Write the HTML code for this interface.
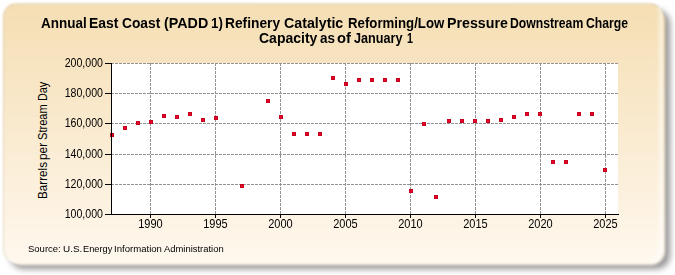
<!DOCTYPE html>
<html><head><meta charset="utf-8"><style>
html,body{margin:0;padding:0;width:675px;height:275px;overflow:hidden;background:#fff;}
body{position:relative;font-family:"Liberation Sans",sans-serif;}
#panel{position:absolute;left:2.8px;top:2.8px;width:660.2px;height:260.2px;border-radius:14px;filter:blur(0.9px);box-sizing:border-box;border:1px solid;border-color:rgba(190,178,145,0.4) rgba(255,255,255,0.45) rgba(255,255,255,0.6) rgba(190,178,145,0.4);
background:linear-gradient(to bottom,#F5DEB3 0%,#FFF8EE 100%);box-shadow:inset -5px -3px 3px -2px rgba(255,255,255,0.55);}
#shadow{position:absolute;left:10px;top:10px;width:660px;height:259px;border-radius:14px;background:rgba(0,0,0,0.42);filter:blur(3px);}
#halo{position:absolute;left:8px;top:8px;width:657px;height:257px;border-radius:14px;background:linear-gradient(to bottom,#F5DEB3 0%,#FFF8EE 100%);filter:blur(1.5px);}
#plot{position:absolute;left:111px;top:63px;width:507px;height:151px;background:#fff;}
svg{position:absolute;left:0;top:0;}
.t{position:absolute;transform-origin:0 0;font-weight:bold;font-size:13.3px;color:#000;white-space:nowrap;}
.yl{position:absolute;left:30px;width:73px;text-align:right;font-size:12.4px;line-height:14px;transform-origin:100% 50%;transform:scaleX(0.855);color:#000;}
.xl{position:absolute;top:216.5px;width:41px;text-align:center;font-size:12.4px;line-height:14px;transform:scaleX(0.887);color:#000;}
.yt{position:absolute;left:35.5px;font-size:12px;line-height:14px;white-space:nowrap;color:#000;transform-origin:0 0;}
.src{position:absolute;top:243.3px;font-size:9px;line-height:12px;color:#000;white-space:nowrap;transform-origin:0 0;}
</style></head><body>
<div id="shadow"></div><div id="halo"></div><div id="panel"></div>
<div id="plot"></div>
<svg width="675" height="275" shape-rendering="crispEdges">
<g stroke="#939393" stroke-width="1" stroke-dasharray="3,1"><line x1="111" y1="63.5" x2="618" y2="63.5"/><line x1="111" y1="93.5" x2="618" y2="93.5"/><line x1="111" y1="123.5" x2="618" y2="123.5"/><line x1="111" y1="154.5" x2="618" y2="154.5"/><line x1="111" y1="184.5" x2="618" y2="184.5"/><line x1="150.5" y1="63" x2="150.5" y2="214"/><line x1="215.5" y1="63" x2="215.5" y2="214"/><line x1="280.5" y1="63" x2="280.5" y2="214"/><line x1="345.5" y1="63" x2="345.5" y2="214"/><line x1="410.5" y1="63" x2="410.5" y2="214"/><line x1="475.5" y1="63" x2="475.5" y2="214"/><line x1="540.5" y1="63" x2="540.5" y2="214"/><line x1="605.5" y1="63" x2="605.5" y2="214"/></g>
<g fill="#C40020"><rect x="110" y="133" width="4" height="4"/><rect x="111" y="134" width="2" height="2" fill="#F2002A"/><rect x="123" y="126" width="4" height="4"/><rect x="124" y="127" width="2" height="2" fill="#F2002A"/><rect x="136" y="121" width="4" height="4"/><rect x="137" y="122" width="2" height="2" fill="#F2002A"/><rect x="149" y="120" width="4" height="4"/><rect x="150" y="121" width="2" height="2" fill="#F2002A"/><rect x="162" y="114" width="4" height="4"/><rect x="163" y="115" width="2" height="2" fill="#F2002A"/><rect x="175" y="115" width="4" height="4"/><rect x="176" y="116" width="2" height="2" fill="#F2002A"/><rect x="188" y="112" width="4" height="4"/><rect x="189" y="113" width="2" height="2" fill="#F2002A"/><rect x="201" y="118" width="4" height="4"/><rect x="202" y="119" width="2" height="2" fill="#F2002A"/><rect x="214" y="116" width="4" height="4"/><rect x="215" y="117" width="2" height="2" fill="#F2002A"/><rect x="240" y="184" width="4" height="4"/><rect x="241" y="185" width="2" height="2" fill="#F2002A"/><rect x="266" y="99" width="4" height="4"/><rect x="267" y="100" width="2" height="2" fill="#F2002A"/><rect x="279" y="115" width="4" height="4"/><rect x="280" y="116" width="2" height="2" fill="#F2002A"/><rect x="292" y="132" width="4" height="4"/><rect x="293" y="133" width="2" height="2" fill="#F2002A"/><rect x="305" y="132" width="4" height="4"/><rect x="306" y="133" width="2" height="2" fill="#F2002A"/><rect x="318" y="132" width="4" height="4"/><rect x="319" y="133" width="2" height="2" fill="#F2002A"/><rect x="331" y="76" width="4" height="4"/><rect x="332" y="77" width="2" height="2" fill="#F2002A"/><rect x="344" y="82" width="4" height="4"/><rect x="345" y="83" width="2" height="2" fill="#F2002A"/><rect x="357" y="78" width="4" height="4"/><rect x="358" y="79" width="2" height="2" fill="#F2002A"/><rect x="370" y="78" width="4" height="4"/><rect x="371" y="79" width="2" height="2" fill="#F2002A"/><rect x="383" y="78" width="4" height="4"/><rect x="384" y="79" width="2" height="2" fill="#F2002A"/><rect x="396" y="78" width="4" height="4"/><rect x="397" y="79" width="2" height="2" fill="#F2002A"/><rect x="409" y="189" width="4" height="4"/><rect x="410" y="190" width="2" height="2" fill="#F2002A"/><rect x="422" y="122" width="4" height="4"/><rect x="423" y="123" width="2" height="2" fill="#F2002A"/><rect x="434" y="195" width="4" height="4"/><rect x="435" y="196" width="2" height="2" fill="#F2002A"/><rect x="447" y="119" width="4" height="4"/><rect x="448" y="120" width="2" height="2" fill="#F2002A"/><rect x="460" y="119" width="4" height="4"/><rect x="461" y="120" width="2" height="2" fill="#F2002A"/><rect x="473" y="119" width="4" height="4"/><rect x="474" y="120" width="2" height="2" fill="#F2002A"/><rect x="486" y="119" width="4" height="4"/><rect x="487" y="120" width="2" height="2" fill="#F2002A"/><rect x="499" y="118" width="4" height="4"/><rect x="500" y="119" width="2" height="2" fill="#F2002A"/><rect x="512" y="115" width="4" height="4"/><rect x="513" y="116" width="2" height="2" fill="#F2002A"/><rect x="525" y="112" width="4" height="4"/><rect x="526" y="113" width="2" height="2" fill="#F2002A"/><rect x="538" y="112" width="4" height="4"/><rect x="539" y="113" width="2" height="2" fill="#F2002A"/><rect x="551" y="160" width="4" height="4"/><rect x="552" y="161" width="2" height="2" fill="#F2002A"/><rect x="564" y="160" width="4" height="4"/><rect x="565" y="161" width="2" height="2" fill="#F2002A"/><rect x="577" y="112" width="4" height="4"/><rect x="578" y="113" width="2" height="2" fill="#F2002A"/><rect x="590" y="112" width="4" height="4"/><rect x="591" y="113" width="2" height="2" fill="#F2002A"/><rect x="603" y="168" width="4" height="4"/><rect x="604" y="169" width="2" height="2" fill="#F2002A"/></g>
<g stroke="#000" stroke-width="1"><line x1="105" y1="63.5" x2="111" y2="63.5"/><line x1="105" y1="93.5" x2="111" y2="93.5"/><line x1="105" y1="123.5" x2="111" y2="123.5"/><line x1="105" y1="154.5" x2="111" y2="154.5"/><line x1="105" y1="184.5" x2="111" y2="184.5"/><line x1="105" y1="214.5" x2="111" y2="214.5"/><line x1="150.5" y1="214" x2="150.5" y2="218"/><line x1="215.5" y1="214" x2="215.5" y2="218"/><line x1="280.5" y1="214" x2="280.5" y2="218"/><line x1="345.5" y1="214" x2="345.5" y2="218"/><line x1="410.5" y1="214" x2="410.5" y2="218"/><line x1="475.5" y1="214" x2="475.5" y2="218"/><line x1="540.5" y1="214" x2="540.5" y2="218"/><line x1="605.5" y1="214" x2="605.5" y2="218"/>
<line x1="111.5" y1="63" x2="111.5" y2="215"/><line x1="111" y1="214.5" x2="619" y2="214.5"/></g>
</svg>
<div class="t" style="top:14.9px;left:41.00px;transform:scale(1.0136,1.08)">Annual</div>
<div class="t" style="top:14.9px;left:89.15px;transform:scale(1.0481,1.08)">East</div>
<div class="t" style="top:14.9px;left:121.96px;transform:scale(1.0361,1.08)">Coast</div>
<div class="t" style="top:14.9px;left:163.62px;transform:scale(1.0750,1.08)">(PADD</div>
<div class="t" style="top:14.9px;left:211.10px;transform:scale(1.0000,1.08)">1)</div>
<div class="t" style="top:14.9px;left:225.46px;transform:scale(1.0365,1.08)">Refinery</div>
<div class="t" style="top:14.9px;left:283.83px;transform:scale(1.0685,1.08)">Catalytic</div>
<div class="t" style="top:14.9px;left:347.51px;transform:scale(0.9948,1.08)">Reforming/Low</div>
<div class="t" style="top:14.9px;left:447.03px;transform:scale(1.0691,1.08)">Pressure</div>
<div class="t" style="top:14.9px;left:509.98px;transform:scale(0.9179,1.08)">Downstream</div>
<div class="t" style="top:14.9px;left:586.18px;transform:scale(0.9182,1.08)">Charge</div>
<div class="t" style="top:30.2px;left:258.95px;transform:scale(1.0537,1.08)">Capacity</div>
<div class="t" style="top:30.2px;left:320.40px;transform:scale(1.0143,1.08)">as</div>
<div class="t" style="top:30.2px;left:337.49px;transform:scale(1.1091,1.08)">of</div>
<div class="t" style="top:30.2px;left:353.80px;transform:scale(0.9510,1.08)">January</div>
<div class="t" style="top:30.2px;left:406.70px;transform:scale(0.8000,1.08)">1</div>
<div class="yl" style="top:56.1px">200,000</div><div class="yl" style="top:86.1px">180,000</div><div class="yl" style="top:116.1px">160,000</div><div class="yl" style="top:147.1px">140,000</div><div class="yl" style="top:177.1px">120,000</div><div class="yl" style="top:207.1px">100,000</div>
<div class="xl" style="left:130px">1990</div><div class="xl" style="left:195px">1995</div><div class="xl" style="left:260px">2000</div><div class="xl" style="left:325px">2005</div><div class="xl" style="left:390px">2010</div><div class="xl" style="left:455px">2015</div><div class="xl" style="left:520px">2020</div><div class="xl" style="left:585px">2025</div>
<div class="yt" style="top:198.57px;transform:rotate(-90deg) scaleX(0.9730)">Barrels</div>
<div class="yt" style="top:160.39px;transform:rotate(-90deg) scaleX(0.9875)">per</div>
<div class="yt" style="top:140.12px;transform:rotate(-90deg) scaleX(0.9243)">Stream</div>
<div class="yt" style="top:101.00px;transform:rotate(-90deg) scaleX(0.9000)">Day</div>
<div class="src" style="left:28.34px;transform:scaleX(1.0552)">Source:</div>
<div class="src" style="left:62.50px;transform:scaleX(1.1000)">U.S.</div>
<div class="src" style="left:83.27px;transform:scaleX(1.0259)">Energy</div>
<div class="src" style="left:114.03px;transform:scaleX(1.0651)">Information</div>
<div class="src" style="left:163.50px;transform:scaleX(1.0464)">Administration</div>
</body></html>
